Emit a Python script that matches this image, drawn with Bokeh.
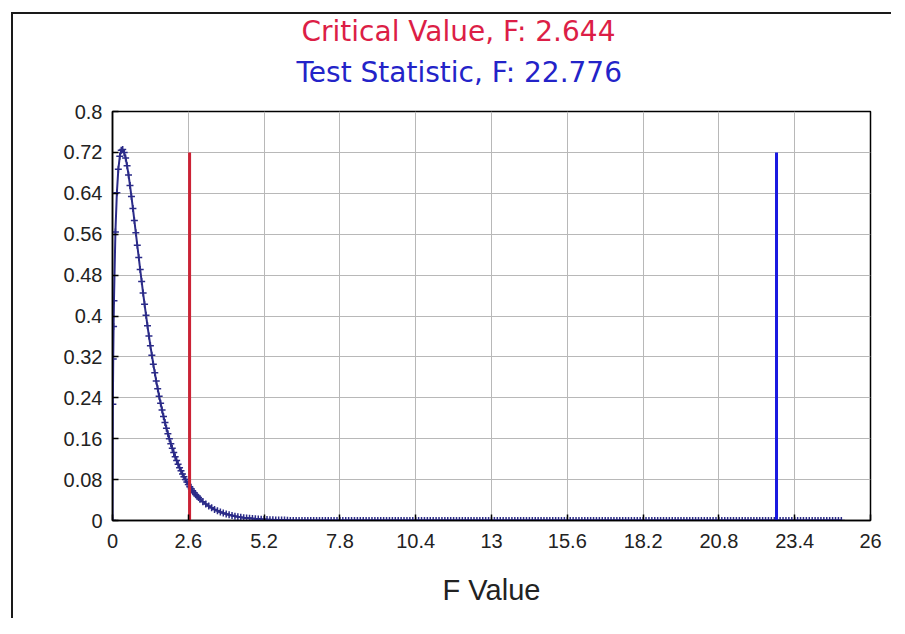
from bokeh.plotting import figure
from bokeh.models import Range1d, FixedTicker, CustomJSTickFormatter, Title
from bokeh.embed import file_html
from bokeh.resources import INLINE

# ---- data ----
x_head = [0, 0.0125, 0.025, 0.0375, 0.05, 0.1, 0.15, 0.2, 0.25, 0.3, 0.35, 0.4, 0.45, 0.5,
          0.55, 0.6, 0.65, 0.7, 0.75, 0.8, 0.85, 0.9, 0.95, 1.0, 1.05, 1.1, 1.15, 1.2, 1.25,
          1.3, 1.35, 1.4, 1.45, 1.5, 1.55, 1.6, 1.65, 1.7, 1.75, 1.8, 1.85, 1.9, 1.95, 2.0,
          2.05, 2.1, 2.15, 2.2, 2.25, 2.3, 2.35, 2.4, 2.45, 2.5, 2.55, 2.6, 2.65, 2.7, 2.75,
          2.8, 2.85, 2.9, 2.95, 3.0, 3.1, 3.2, 3.3, 3.4, 3.5, 3.6, 3.7, 3.8, 3.9, 4.0, 4.1,
          4.2, 4.3, 4.4, 4.5, 4.6, 4.7, 4.8, 4.9, 5.0, 5.1, 5.2, 5.3, 5.4, 5.5, 5.6, 5.7,
          5.8, 5.9, 6.0]
y_head = [0, 0.2275, 0.3157, 0.3795, 0.4300, 0.5642, 0.6411, 0.6868, 0.7124, 0.7240, 0.7255,
          0.7200, 0.7090, 0.6940, 0.6760, 0.6555, 0.6335, 0.6105, 0.5868, 0.5628, 0.5385,
          0.5145, 0.4908, 0.4676, 0.4449, 0.4229, 0.4015, 0.3808, 0.3608, 0.3417, 0.3233,
          0.3058, 0.2890, 0.2730, 0.2577, 0.2431, 0.2292, 0.2160, 0.2036, 0.1917, 0.1805,
          0.1699, 0.1598, 0.1503, 0.1413, 0.1328, 0.1248, 0.1172, 0.1101, 0.1034, 0.0971,
          0.0911, 0.0855, 0.0802, 0.0752, 0.0706, 0.0662, 0.0620, 0.0581, 0.0545, 0.0511,
          0.0478, 0.0448, 0.0420, 0.0369, 0.0323, 0.0283, 0.0248, 0.0217, 0.0190, 0.0166,
          0.0145, 0.0127, 0.0111, 0.0097, 0.0085, 0.0074, 0.0064, 0.0056, 0.0049, 0.0043,
          0.0037, 0.0032, 0.0028, 0.0024, 0.0021, 0.0018, 0.0016, 0.0014, 0.0012, 0.0011,
          0.0009, 0.0008, 0.0007]
x_tail = [6.1, 6.2, 6.3, 6.4, 6.5, 6.6, 6.7, 6.8, 6.9, 7.0,
          7.1, 7.2, 7.3, 7.4, 7.5, 7.6, 7.7, 7.8, 7.9, 8.0,
          8.1, 8.2, 8.3, 8.4, 8.5, 8.6, 8.7, 8.8, 8.9, 9.0,
          9.1, 9.2, 9.3, 9.4, 9.5, 9.6, 9.7, 9.8, 9.9, 10.0,
          10.1, 10.2, 10.3, 10.4, 10.5, 10.6, 10.7, 10.8, 10.9, 11.0,
          11.1, 11.2, 11.3, 11.4, 11.5, 11.6, 11.7, 11.8, 11.9, 12.0,
          12.1, 12.2, 12.3, 12.4, 12.5, 12.6, 12.7, 12.8, 12.9, 13.0,
          13.1, 13.2, 13.3, 13.4, 13.5, 13.6, 13.7, 13.8, 13.9, 14.0,
          14.1, 14.2, 14.3, 14.4, 14.5, 14.6, 14.7, 14.8, 14.9, 15.0,
          15.1, 15.2, 15.3, 15.4, 15.5, 15.6, 15.7, 15.8, 15.9, 16.0,
          16.1, 16.2, 16.3, 16.4, 16.5, 16.6, 16.7, 16.8, 16.9, 17.0,
          17.1, 17.2, 17.3, 17.4, 17.5, 17.6, 17.7, 17.8, 17.9, 18.0,
          18.1, 18.2, 18.3, 18.4, 18.5, 18.6, 18.7, 18.8, 18.9, 19.0,
          19.1, 19.2, 19.3, 19.4, 19.5, 19.6, 19.7, 19.8, 19.9, 20.0,
          20.1, 20.2, 20.3, 20.4, 20.5, 20.6, 20.7, 20.8, 20.9, 21.0,
          21.1, 21.2, 21.3, 21.4, 21.5, 21.6, 21.7, 21.8, 21.9, 22.0,
          22.1, 22.2, 22.3, 22.4, 22.5, 22.6, 22.7, 22.8, 22.9, 23.0,
          23.1, 23.2, 23.3, 23.4, 23.5, 23.6, 23.7, 23.8, 23.9, 24.0,
          24.1, 24.2, 24.3, 24.4, 24.5, 24.6, 24.7, 24.8, 24.9, 25.0]
y_tail = [0, 0, 0, 0, 0, 0, 0, 0, 0, 0,
          0, 0, 0, 0, 0, 0, 0, 0, 0, 0,
          0, 0, 0, 0, 0, 0, 0, 0, 0, 0,
          0, 0, 0, 0, 0, 0, 0, 0, 0, 0,
          0, 0, 0, 0, 0, 0, 0, 0, 0, 0,
          0, 0, 0, 0, 0, 0, 0, 0, 0, 0,
          0, 0, 0, 0, 0, 0, 0, 0, 0, 0,
          0, 0, 0, 0, 0, 0, 0, 0, 0, 0,
          0, 0, 0, 0, 0, 0, 0, 0, 0, 0,
          0, 0, 0, 0, 0, 0, 0, 0, 0, 0,
          0, 0, 0, 0, 0, 0, 0, 0, 0, 0,
          0, 0, 0, 0, 0, 0, 0, 0, 0, 0,
          0, 0, 0, 0, 0, 0, 0, 0, 0, 0,
          0, 0, 0, 0, 0, 0, 0, 0, 0, 0,
          0, 0, 0, 0, 0, 0, 0, 0, 0, 0,
          0, 0, 0, 0, 0, 0, 0, 0, 0, 0,
          0, 0, 0, 0, 0, 0, 0, 0, 0, 0,
          0, 0, 0, 0, 0, 0, 0, 0, 0, 0,
          0, 0, 0, 0, 0, 0, 0, 0, 0, 0]

critical_value = 2.644
test_statistic = 22.776
marker_top = 0.72
x_ticks = [0, 2.6, 5.2, 7.8, 10.4, 13, 15.6, 18.2, 20.8, 23.4, 26]
y_ticks = [0, 0.08, 0.16, 0.24, 0.32, 0.4, 0.48, 0.56, 0.64, 0.72, 0.8]
title_crit = "Critical Value, F: 2.644"
title_test = "Test Statistic, F: 22.776"
x_label = "F Value"

x_pdf = x_head + x_tail
y_pdf = y_head + y_tail

CURVE = "#2b2b88"
RED = "#cc2235"
BLUE = "#1a1ae0"

p = figure(width=880, height=606, x_range=Range1d(0, 26), y_range=Range1d(0, 0.8),
           output_backend="svg", toolbar_location=None,
           min_border_left=99, min_border_right=23, min_border_top=97, min_border_bottom=100)
p.styles = {"margin-left": "11px", "margin-top": "12px",
            "border-left": "2px solid #1a1a1a", "border-top": "2px solid #1a1a1a"}

p.background_fill_color = "white"
p.border_fill_color = "white"
p.outline_line_color = "black"
p.outline_line_width = 1.5

for ax in (p.xaxis[0], p.yaxis[0]):
    ax.axis_line_color = "black"
    ax.axis_line_width = 1.5
    ax.major_tick_in = 6
    ax.major_tick_out = 0
    ax.major_tick_line_color = "black"
    ax.major_tick_line_width = 1.5
    ax.minor_tick_line_color = None
    ax.major_label_text_font = "Liberation Sans"
    ax.major_label_text_font_size = "20px"
    ax.major_label_text_color = "#222222"

p.xaxis.ticker = FixedTicker(ticks=x_ticks)
p.yaxis.ticker = FixedTicker(ticks=y_ticks)
p.xaxis.formatter = CustomJSTickFormatter(code="return String(Number(tick.toFixed(1)));")
p.yaxis.formatter = CustomJSTickFormatter(code="return String(Number(tick.toFixed(2)));")
p.xaxis.major_label_standoff = 13
p.yaxis.major_label_standoff = 10

p.xaxis.axis_label = x_label
p.xaxis.axis_label_text_font = "Liberation Sans"
p.xaxis.axis_label_text_font_style = "normal"
p.xaxis.axis_label_text_font_size = "29px"
p.xaxis.axis_label_text_color = "#222222"
p.xaxis.axis_label_standoff = 23

p.xgrid.ticker = FixedTicker(ticks=x_ticks)
p.ygrid.ticker = FixedTicker(ticks=y_ticks)
p.grid.grid_line_color = "#b8b8b8"
p.grid.grid_line_width = 1

p.line(x_pdf, y_pdf, line_color=CURVE, line_width=2)
p.scatter(x_pdf, y_pdf, marker="cross", size=7, line_color=CURVE, line_width=1.5)

p.segment(x0=[critical_value], y0=[0], x1=[critical_value], y1=[marker_top],
          line_color=RED, line_width=3)
p.segment(x0=[test_statistic], y0=[0], x1=[test_statistic], y1=[marker_top],
          line_color=BLUE, line_width=3)

p.add_layout(Title(text=title_test, align="left", offset=184, text_color="#2323c8",
                   text_font="DejaVu Sans", text_font_style="normal",
                   text_font_size="28px", standoff=45), "above")
p.add_layout(Title(text=title_crit, align="left", offset=189, text_color="#dc1e46",
                   text_font="DejaVu Sans", text_font_style="normal",
                   text_font_size="28px", standoff=-33), "above")

open("out.html", "w").write(file_html(p, INLINE))
